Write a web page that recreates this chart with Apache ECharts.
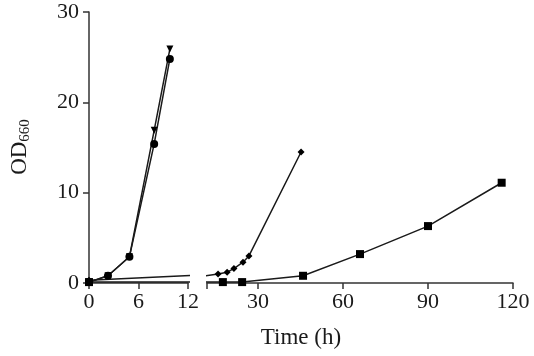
<!DOCTYPE html>
<html>
<head>
<meta charset="utf-8">
<script src="https://cdn.jsdelivr.net/npm/echarts@6/dist/echarts.min.js"></script>
<style>
  html, body { margin: 0; background: #fff; }
  #chart { width: 534px; height: 356px; }
</style>
</head>
<body>
<div id="chart"></div>
<script>
// fast-growing cultures (left panel, 0-12 h)
const fastHours = [0, 2.3, 4.9, 7.9, 9.8];
const fastTriangleOD = [0.1, 0.8, 2.9, 16.9, 25.9];
const fastCircleOD = [0.1, 0.8, 2.9, 15.4, 24.8];
// slower cultures, drawn across the axis break
const diamondHours = [0, 15.9, 19.1, 21.5, 24.7, 26.8, 45.2];
const diamondOD = [0.3, 1.0, 1.2, 1.6, 2.3, 3.0, 14.5];
const squareHours = [0, 17.6, 24.4, 45.9, 66, 90, 116];
const squareOD = [0.1, 0.1, 0.1, 0.8, 3.2, 6.3, 11.1];

const leftTicks = [0, 6, 12];
const rightTickMarks = [12, 30, 60, 90, 120];
const rightTickLabels = [30, 60, 90, 120];
const yTicks = [0, 10, 20, 30];

const pairs = (xs, ys) => xs.map((x, i) => [x, ys[i]]);

const font = 'Liberation Serif';
const ink = '#1a1a1a';
const axisLine = { show: true, lineStyle: { color: '#333', width: 1.5 } };

const lineSeries = (name, grid, data, symbol, size, extra) => Object.assign({
  name: name,
  type: 'line',
  xAxisIndex: grid,
  yAxisIndex: grid,
  data: data,
  symbol: symbol,
  symbolSize: size,
  clip: true,
  itemStyle: { color: '#000' },
  lineStyle: { color: ink, width: 1.5 },
  emphasis: { disabled: true },
  z: 3
}, extra || {});

const chart = echarts.init(document.getElementById('chart'));

chart.setOption({
  animation: false,
  backgroundColor: '#fff',
  textStyle: { fontFamily: font },
  grid: [
    { left: 89, top: 12, width: 99, height: 271 },
    { left: 207, top: 12, width: 306, height: 271 }
  ],
  xAxis: [
    {
      gridIndex: 0, type: 'value', min: leftTicks[0], max: leftTicks[leftTicks.length - 1], interval: 6,
      axisLine: axisLine,
      axisTick: { show: true, length: 6, lineStyle: { color: '#333', width: 1.5 } },
      axisLabel: { color: ink, fontSize: 22, fontFamily: font, margin: 8 },
      splitLine: { show: false }
    },
    {
      gridIndex: 1, type: 'value', min: rightTickMarks[0], max: rightTickMarks[rightTickMarks.length - 1],
      axisLine: axisLine,
      axisTick: { show: true, length: 6, customValues: rightTickMarks, lineStyle: { color: '#333', width: 1.5 } },
      axisLabel: { color: ink, fontSize: 22, fontFamily: font, margin: 8, customValues: rightTickLabels },
      splitLine: { show: false }
    }
  ],
  yAxis: [
    {
      gridIndex: 0, type: 'value', min: yTicks[0], max: yTicks[yTicks.length - 1], interval: 10,
      axisLine: axisLine,
      axisTick: { show: true, length: 6, lineStyle: { color: '#333', width: 1.5 } },
      axisLabel: { color: ink, fontSize: 22, fontFamily: font, margin: 10 },
      splitLine: { show: false }
    },
    {
      gridIndex: 1, type: 'value', min: yTicks[0], max: yTicks[yTicks.length - 1], interval: 10,
      show: false, splitLine: { show: false }
    }
  ],
  graphic: [
    {
      type: 'text',
      x: 20, y: 147,
      rotation: Math.PI / 2,
      style: {
        text: '{a|OD}{b|660}',
        align: 'center',
        verticalAlign: 'middle',
        fill: ink,
        rich: {
          a: { fontSize: 23, fontFamily: font, fill: ink },
          b: { fontSize: 15, fontFamily: font, fill: ink, padding: [10, 0, 0, 0] }
        }
      }
    },
    {
      type: 'text',
      x: 301, y: 338,
      style: {
        text: 'Time (h)',
        align: 'center',
        verticalAlign: 'middle',
        font: '23px "Liberation Serif"',
        fill: ink
      }
    }
  ],
  series: [
    lineSeries('triangle', 0, pairs(fastHours, fastTriangleOD), 'triangle', 7, { symbolRotate: 180 }),
    lineSeries('circle', 0, pairs(fastHours, fastCircleOD), 'circle', 8),
    lineSeries('diamond', 0, pairs(diamondHours, diamondOD), 'diamond', 7),
    lineSeries('square', 0, pairs(squareHours, squareOD), 'rect', 8),
    lineSeries('diamond', 1, pairs(diamondHours, diamondOD), 'diamond', 7),
    lineSeries('square', 1, pairs(squareHours, squareOD), 'rect', 8)
  ]
});
</script>
</body>
</html>
